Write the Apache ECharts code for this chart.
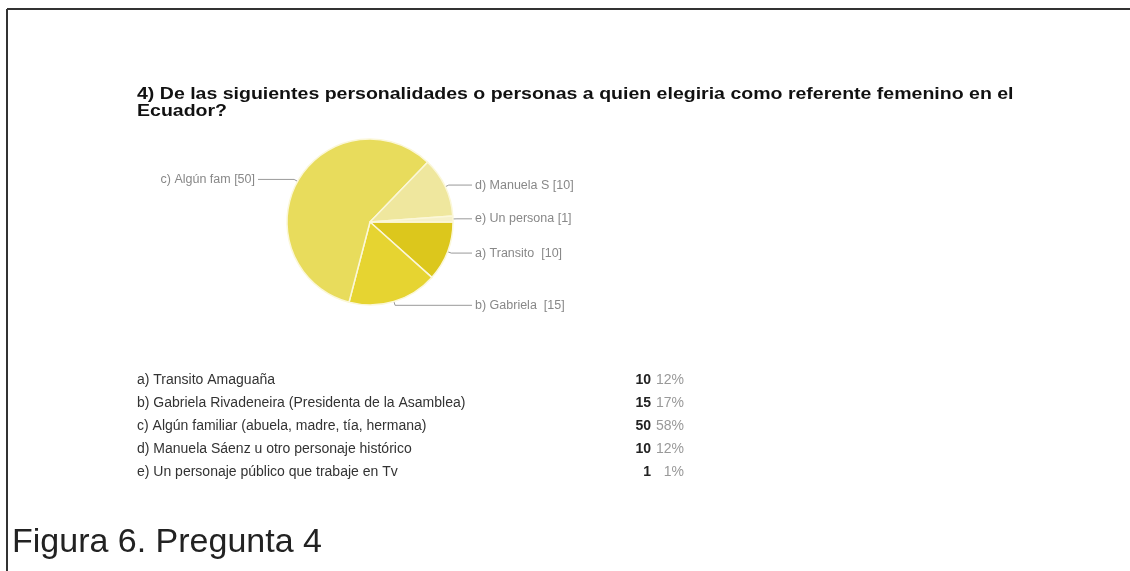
<!DOCTYPE html>
<html>
<head>
<meta charset="utf-8">
<script src="https://cdn.jsdelivr.net/npm/echarts@6/dist/echarts.min.js"></script>
<style>
  html, body { margin:0; padding:0; background:#fff; }
  #chart { width:1130px; height:571px; }
</style>
</head>
<body>
<div id="chart"></div>
<script>
/* ---------- datos ---------- */
const shortNames = ['a) Transito  [10]', 'b) Gabriela  [15]', 'c) Algún fam [50]', 'd) Manuela S [10]', 'e) Un persona [1]'];
const longNames = [
  'a) Transito Amaguaña',
  'b) Gabriela Rivadeneira (Presidenta de la Asamblea)',
  'c) Algún familiar (abuela, madre, tía, hermana)',
  'd) Manuela Sáenz u otro personaje histórico',
  'e) Un personaje público que trabaje en Tv'
];
const counts = [10, 15, 50, 10, 1];
const sliceColors = ['#dcc71c', '#e6d431', '#e8dc5c', '#efe79e', '#f6f1c9'];

const titleLines = [
  '4) De las siguientes personalidades o personas a quien elegiria como referente femenino en el',
  'Ecuador?'
];
const captionText = 'Figura 6. Pregunta 4';

const total = counts.reduce((a, b) => a + b, 0);
const pct = counts.map(v => Math.round(v / total * 100) + '%');

/* ---------- geometría ---------- */
const CX = 370, CY = 222, R = 83;
const FONT = '"Liberation Sans", Arial';

// ángulo medio de cada porción (desde las 3 en punto, sentido horario)
const midAngles = [];
let acc = 0;
counts.forEach(v => {
  midAngles.push((acc + v / 2) / total * Math.PI * 2);
  acc += v;
});

/* ---------- título en dos líneas ---------- */
const titleTexts = titleLines.map((t, i) => ({
  type:'text', x:137, y:95 + i * 17, scaleX:1.22,
  style:{ text:t, fill:'#111', font:'bold 16px ' + FONT, verticalAlign:'middle' }
}));

/* ---------- tabla como texto ---------- */
const rowTop = 380, rowGap = 23;
const tableTexts = [];
longNames.forEach((name, i) => {
  const y = rowTop + i * rowGap;
  tableTexts.push({ type:'text', x:137, y:y, style:{ text:name, fill:'#333',
    font:'14px ' + FONT, verticalAlign:'middle' } });
  tableTexts.push({ type:'text', x:651, y:y, style:{ text:String(counts[i]), fill:'#222',
    font:'bold 14px ' + FONT, align:'right', verticalAlign:'middle' } });
  tableTexts.push({ type:'text', x:684, y:y, style:{ text:pct[i], fill:'#999',
    font:'14px ' + FONT, align:'right', verticalAlign:'middle' } });
});

const chart = echarts.init(document.getElementById('chart'));

chart.setOption({
  backgroundColor:'#fff',
  animation:false,
  graphic:[
    // marco
    { type:'line', shape:{ x1:7, y1:9, x2:1130, y2:9 }, style:{ stroke:'#333', lineWidth:2 } },
    { type:'line', shape:{ x1:7, y1:9, x2:7, y2:571 }, style:{ stroke:'#333', lineWidth:2 } },
    // pie de figura
    { type:'text', x:12, y:526,
      style:{ text:captionText, fill:'#222', font:'34px ' + FONT } }
  ].concat(titleTexts, tableTexts),
  series:[{
    type:'pie',
    center:[CX, CY],
    radius:R,
    startAngle:0,
    clockwise:true,
    itemStyle:{ borderColor:'#fbf7d8', borderWidth:1.5 },
    label:{
      show:true,
      position:'outside',
      color:'#888',
      fontSize:12.5,
      fontFamily:FONT,
      formatter: p => shortNames[p.dataIndex]
    },
    labelLine:{ show:true, lineStyle:{ color:'#999', width:1 } },
    labelLayout: p => {
      const a = midAngles[p.dataIndex];
      const cos = Math.cos(a), sin = Math.sin(a);
      const p1 = [CX + R * cos, CY + R * sin];
      const p2 = [CX + (R + 4) * cos, CY + (R + 4) * sin];
      const right = cos > 0;
      const tx = right ? CX + R + 22 : CX - R - 32;
      const p3 = [right ? tx - 3 : tx + 3, p2[1]];
      return {
        x: tx, y: p2[1],
        align: right ? 'left' : 'right',
        verticalAlign: 'middle',
        labelLinePoints: [p1, p2, p3]
      };
    },
    emphasis:{ disabled:true },
    data: counts.map((v, i) => ({
      value:v,
      name:shortNames[i],
      itemStyle:{ color:sliceColors[i] }
    }))
  }]
});
</script>
</body>
</html>
